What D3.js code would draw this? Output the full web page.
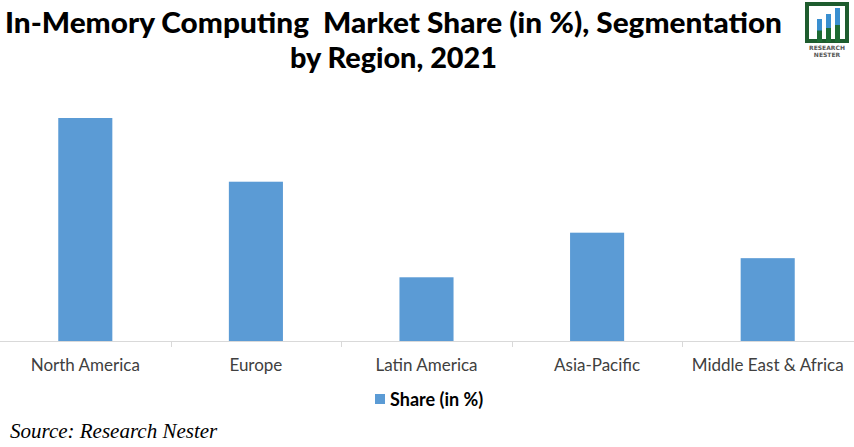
<!DOCTYPE html>
<html><head><meta charset="utf-8">
<script src="https://cdn.jsdelivr.net/npm/d3@7"></script>
<style>body{margin:0;background:#fff}svg{display:block}text{white-space:pre}</style>
</head><body>
<svg id="c" width="854" height="447"></svg>
<script>
const categories = ["North America","Europe","Latin America","Asia-Pacific","Middle East & Africa"];
const shareValues = [35, 25, 10, 17, 13];
const seriesName = "Share (in %)";
const titleLines = ["In-Memory Computing  Market Share (in %), Segmentation","by Region, 2021"];
const sourceText = "Source: Research Nester";

const svg = d3.select("#c");
const x = d3.scaleBand().domain(categories).range([0, 853]).paddingInner(0.683).paddingOuter(0.3415);
const y = d3.scaleLinear().domain([0, 35]).range([341, 118]);

// Title
svg.append("text").attr("x", 5).attr("y", 33).attr("textLength", 777).attr("lengthAdjust","spacingAndGlyphs")
  .attr("xml:space","preserve")
  .style("font-family","Lato").style("font-weight","900").style("font-size","29px").attr("fill","#000").text(titleLines[0]);
svg.append("text").attr("x", 290).attr("y", 68).attr("textLength", 207).attr("lengthAdjust","spacingAndGlyphs")
  .style("font-family","Lato").style("font-weight","900").style("font-size","29px").attr("fill","#000").text(titleLines[1]);

// Logo
const logo = svg.append("g");
logo.append("rect").attr("x",807).attr("y",4).attr("width",40).attr("height",37).attr("fill","none").attr("stroke","#1e5c2e").attr("stroke-width",4);
[[817,19,23],[826,14,28],[835,8,34]].forEach(([bx,by,bh])=>{
  logo.append("rect").attr("x",bx).attr("y",by).attr("width",5).attr("height",bh).attr("fill","#1e6b34");
  logo.append("rect").attr("x",bx).attr("y",by).attr("width",5).attr("height",bh*0.5).attr("fill","#3a8fd0");
});
logo.append("text").attr("x",827).attr("y",50).attr("text-anchor","middle").style("font-family","DejaVu Sans").style("font-weight","bold").style("font-size","6px").attr("fill","#555").text("RESEARCH");
logo.append("text").attr("x",827).attr("y",57).attr("text-anchor","middle").style("font-family","DejaVu Sans").style("font-weight","bold").style("font-size","6px").attr("fill","#555").text("NESTER");

// Bars
svg.append("g").selectAll("rect").data(categories).join("rect")
  .attr("x", d => x(d)).attr("width", x.bandwidth())
  .attr("y", (d,i) => y(shareValues[i])).attr("height", (d,i) => y(0) - y(shareValues[i]))
  .attr("fill", "#5b9bd5");

// Axis
const g = svg.append("g").attr("transform", `translate(0,${y(0)})`);
g.append("line").attr("x1",0).attr("x2",854).attr("y1",0.5).attr("y2",0.5).attr("stroke","#d9d9d9");
const step = x.step();
categories.slice(1).forEach((c)=>{
  const px = x(c) - (step - x.bandwidth())/2;
  g.append("line").attr("x1",Math.round(px)+0.5).attr("x2",Math.round(px)+0.5).attr("y1",0).attr("y2",6).attr("stroke","#d9d9d9");
});
categories.forEach((c)=>{
  g.append("text").attr("x", x(c)+x.bandwidth()/2).attr("y", 30).attr("text-anchor","middle")
   .style("font-family","Lato").style("font-size","17px").attr("fill","#404040").text(c);
});

// Legend
svg.append("rect").attr("x",375).attr("y",394).attr("width",10).attr("height",10).attr("fill","#5b9bd5");
svg.append("text").attr("x",390).attr("y",406).style("font-family","Lato").style("font-weight","bold").style("font-size","18px").attr("fill","#000").text(seriesName);

// Source
svg.append("text").attr("x",10).attr("y",438).style("font-family","Liberation Serif").style("font-style","italic").style("font-size","21px").attr("fill","#000").text(sourceText);
</script>
</body></html>
